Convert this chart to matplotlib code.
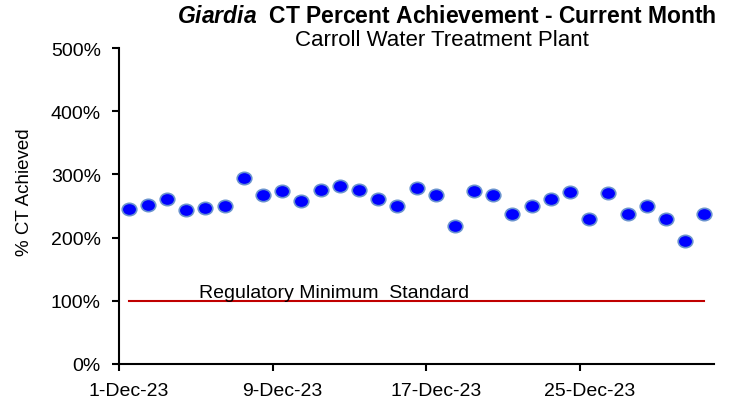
""" Giardia CT percent achievement chart for the current month. """

import numpy as np
import matplotlib
matplotlib.use("Agg")
import matplotlib.pyplot as plt
from matplotlib.path import Path
from matplotlib.transforms import Affine2D

plt.rcParams['font.family'] = ['Liberation Sans', 'DejaVu Sans']
plt.rcParams['mathtext.fontset'] = 'custom'
plt.rcParams['mathtext.bfit'] = 'Liberation Sans:italic:bold'

# day of month (December 2023) and % CT achieved
days = list(range(1, 32))
ct_percent = [246, 252, 261, 244, 247, 250, 295, 267, 273, 258,
              275, 281, 275, 261, 250, 279, 267, 218, 273, 267,
              238, 250, 261, 272, 229, 270, 238, 250, 229, 195, 238]
reg_minimum = [100] * len(days)

tick_days = [1, 9, 17, 25]
tick_labels = ['1-Dec-23', '9-Dec-23', '17-Dec-23', '25-Dec-23']
y_ticks = [0, 100, 200, 300, 400, 500]


def main():
    fig = plt.figure(figsize=(7.39, 4.02), dpi=100)
    ax = fig.add_axes([119 / 739, 37 / 402, 595 / 739, 316 / 402])

    # points sit in the middle of each day
    x = np.array(days) + 0.5

    ax.plot(x, reg_minimum, color='#C00000', linewidth=1.5, zorder=2)

    ellipse = Path.unit_circle().transformed(Affine2D().scale(1.18, 1.0))
    ax.plot(x, ct_percent, linestyle='none', marker=ellipse, markersize=10.5,
            markerfacecolor='#0000FF', markeredgecolor='#6A93CF',
            markeredgewidth=1.2, zorder=3)

    ax.text(5.15, 106, 'Regulatory Minimum  Standard', fontsize=14,
            ha='left', va='baseline')

    ax.set_xlim(1, 32)
    ax.set_ylim(0, 500)
    ax.set_yticks(y_ticks)
    ax.set_yticklabels([f'{v}%' for v in y_ticks])
    ax.set_xticks(tick_days)
    ax.set_xticklabels([''] * len(tick_days))
    ax.set_xticks([d + 0.5 for d in tick_days], minor=True)
    ax.set_xticklabels(tick_labels, minor=True)
    ax.tick_params(axis='x', which='minor', length=0, pad=13, labelsize=14)
    ax.tick_params(axis='x', which='major', length=5, width=1.5, direction='out')
    ax.tick_params(axis='y', length=5, width=1.5, direction='out', labelsize=14, pad=8)

    for side in ['top', 'right']:
        ax.spines[side].set_visible(False)
    for side in ['left', 'bottom']:
        ax.spines[side].set_linewidth(1.5)

    ax.set_ylabel('% CT Achieved', fontsize=13.5)
    ax.yaxis.set_label_coords(-0.1445, 0.547)

    fig.text(447 / 739, 1 - 23 / 402,
             r'$\mathbfit{Giardia}$  CT Percent Achievement - Current Month',
             fontsize=16.5, fontweight='bold', ha='center', va='baseline')
    fig.text(442 / 739, 1 - 46 / 402, 'Carroll Water Treatment Plant',
             fontsize=16, ha='center', va='baseline')

    fig.savefig('out.png', dpi=100)


if __name__ == "__main__":
    main()
